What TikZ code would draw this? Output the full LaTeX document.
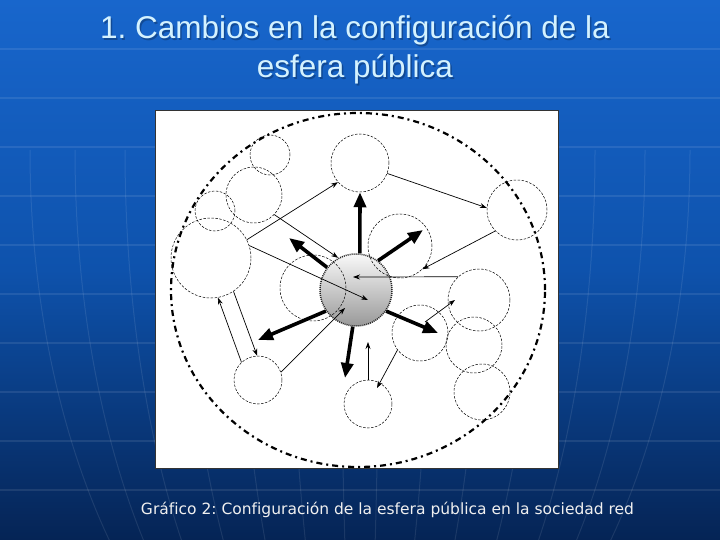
\documentclass[tikz,border=0pt]{standalone}
\usepackage{fontspec}
\setmainfont[Ligatures=NoCommon]{Liberation Sans}
\newfontfamily\capfont[Ligatures=NoCommon]{DejaVu Sans}
\usetikzlibrary{arrows.meta}
\frenchspacing
\definecolor{bgtop}{RGB}{24,102,204}
\definecolor{bgmid}{RGB}{14,82,172}
\definecolor{bgbot}{RGB}{5,36,85}
\definecolor{titlecol}{RGB}{212,242,255}
\tikzset{
  sub/.style={circle, draw=black, line width=0.5pt, dash pattern=on 2.5pt off 1.5pt, inner sep=0pt},
  thinarrow/.style={-{Stealth[length=7pt,width=5pt]}, line width=0.7pt},
  thickarrow/.style={-{Triangle[length=15pt,width=12pt]}, line width=3.6pt},
  gridline/.style={white, opacity=0.09, line width=1.4pt},
  titletext/.style={anchor=base, text=titlecol, font=\fontsize{31.5}{38}\selectfont, inner sep=0pt},
  titleshadow/.style={anchor=base, text=black, opacity=0.25, font=\fontsize{31.5}{38}\selectfont, inner sep=0pt},
}
\begin{document}
\begin{tikzpicture}[x=1pt,y=-1pt]
\useasboundingbox (0,0) rectangle (720,540);
% background
\fill[top color=bgtop, bottom color=bgbot, middle color=bgmid] (0,0) rectangle (720,540);
\begin{scope}
\clip (0,0) rectangle (720,540);
\foreach \yy in {49,98,147,196,245,294,343,392,441,490}
  \draw[gridline] (0,\yy) -- (720,\yy);
\foreach \aa in {20,72,125,180,235,285,330} {
  \draw[gridline, line width=1pt] (360-\aa,150) arc[start angle=180, end angle=270, x radius=\aa pt, y radius=600pt];
  \draw[gridline, line width=1pt] (360+\aa,150) arc[start angle=0, end angle=-90, x radius=\aa pt, y radius=600pt];
}
\end{scope}
% title
\node[titleshadow] (t1s) at (356.5,40.5) {1. Cambios en la configuración de la};
\node[titleshadow] (t2s) at (356.5,79.5) {esfera pública};
\node[titletext] (t1) at (355,39) {1. Cambios en la configuración de la};
\node[titletext] (t2) at (355,78) {esfera pública};
% panel
\node[draw=black!80, fill=white, line width=0.8pt, minimum width=403pt, minimum height=358pt, inner sep=0pt] (panel) at (356.5,289) {};
% outer sphere boundary
\draw[line width=2.2pt, dash pattern=on 6pt off 4pt on 2pt off 4pt] (358,290) ellipse [x radius=187pt, y radius=177pt];
% central sphere
\node[circle, minimum size=72pt, inner sep=0pt, top color=gray!5, bottom color=gray!80, draw=black!85, line width=1.5pt, dash pattern=on 1pt off 1pt] (s) at (356,290) {};
% small circles
\node[sub, minimum size=40pt] (c1) at (270,155) {};
\node[sub, minimum size=56pt] (c2) at (254,195) {};
\node[sub, minimum size=40pt] (c3) at (215,211) {};
\node[sub, minimum size=80pt] (c4) at (211,258) {};
\node[sub, minimum size=58pt] (c5) at (360,163) {};
\node[sub, minimum size=60pt] (c6) at (517,210) {};
\node[sub, minimum size=64pt] (c7) at (400,246) {};
\node[sub, minimum size=62pt] (c8) at (479,300) {};
\node[sub, minimum size=56pt] (c9) at (420,333) {};
\node[sub, minimum size=56pt] (c10) at (474,345) {};
\node[sub, minimum size=56pt] (c11) at (482,392) {};
\node[sub, minimum size=48pt] (c12) at (368,404) {};
\node[sub, minimum size=48pt] (c13) at (258,380) {};
\node[sub, minimum size=66pt] (c14) at (313,288) {};
% free ends
\coordinate (pin1) at (368,300);
\coordinate (pin2) at (353,277);
\coordinate (pin3) at (345,308);
\coordinate (g1) at (425,322);
\coordinate (g2) at (455,300);
\coordinate (h2) at (377,388);
\coordinate (i2) at (368,342);
\coordinate (tp2) at (289,238);
\coordinate (tp3) at (423,230);
\coordinate (tp4) at (438,333);
\coordinate (tp5) at (345,378);
\coordinate (tp6) at (258,340);
% thin arrows
\draw[thinarrow] (c4.27) -- (c5.221);
\draw[thinarrow] (c2.316) -- (s.119);
\draw[thinarrow] (c4.18) -- (pin1);
\draw[thinarrow] (c5.339) -- (c6.176);
\draw[thinarrow] (c6.224) -- (c7.314);
\draw[thinarrow] (c8.132) -- (pin2);
\draw[thinarrow] (g1) -- (g2);
\draw[thinarrow] (c9.217) -- (h2);
\draw[thinarrow] (c12.north) -- (i2);
\draw[thinarrow] (c13.19) -- (pin3);
\draw[thinarrow] (c13.133) -- (c4.280);
\draw[thinarrow] (c4.304) -- (c13.92);
% thick arrows
\draw[thickarrow] (s.84) -- (c5.south);
\draw[thickarrow] (s.142) -- (tp2);
\draw[thickarrow] (s.53) -- (tp3);
\draw[thickarrow] (s.325) -- (tp4);
\draw[thickarrow] (s.265) -- (tp5);
\draw[thickarrow] (s.215) -- (tp6);
% caption
\node[anchor=base, text=white!94!black, font=\capfont\fontsize{15.5}{18}\selectfont, inner sep=0pt] (cap) at (387.5,514) {Gráfico 2: Configuración de la esfera pública en la sociedad red};
\end{tikzpicture}
\end{document}
